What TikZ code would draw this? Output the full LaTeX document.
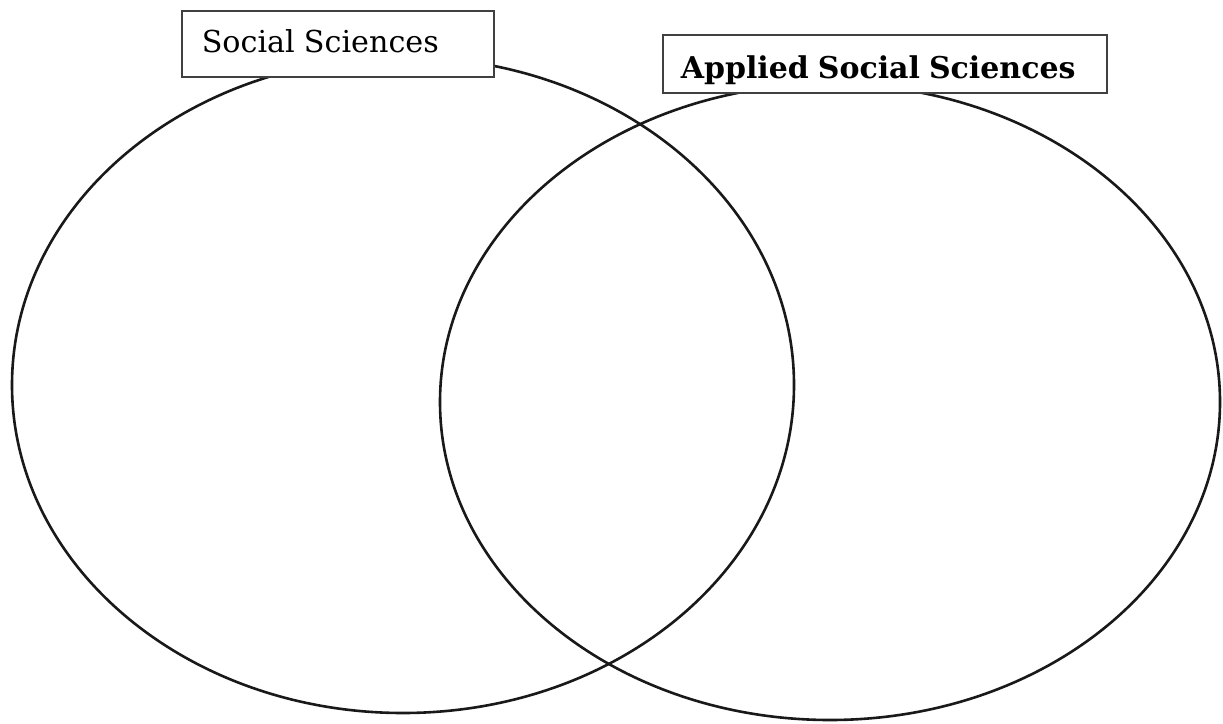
\documentclass[tikz,border=0pt]{standalone}
\usepackage{fontspec}
\setmainfont{DejaVu Serif}
\usetikzlibrary{shapes.geometric}
\tikzset{
  venn/.style={ellipse, draw=black!90, line width=2.6pt, inner sep=0pt},
  labelbox/.style={rectangle, draw=black!75, line width=1.6pt, fill=white, anchor=north west, align=left}
}
\begin{document}
\begin{tikzpicture}[x=1pt,y=-1pt]
\useasboundingbox (0,0) rectangle (1223,723);
\fill[white] (0,0) rectangle (1223,723);
\node[venn, minimum width=782pt, minimum height=656pt] (leftset) at (403,385) {};
\node[venn, minimum width=780pt, minimum height=636pt] (rightset) at (830,402) {};
\node[labelbox, inner xsep=20pt, text width=272pt, text height=26pt, text depth=8pt, minimum height=66pt] (social) at (181,10)
  {\fontsize{30.2}{36}\selectfont Social\hspace{0.3em}Sciences};
\node[labelbox, inner xsep=18pt, text width=408pt, text height=30pt, text depth=0pt, minimum height=58pt] (applied) at (662,34)
  {\fontsize{30}{34}\selectfont\bfseries Applied\hspace{0.3em}Social\hspace{0.3em}Sciences};
\end{tikzpicture}
\end{document}
